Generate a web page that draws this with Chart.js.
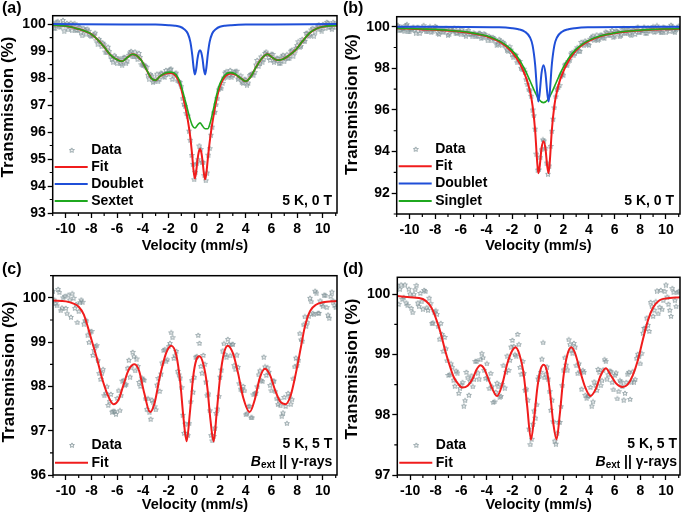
<!DOCTYPE html>
<html>
<head>
<meta charset="utf-8">
<script src="https://cdn.jsdelivr.net/npm/chart.js@4.4.1/dist/chart.umd.min.js"></script>
<style>
    html, body { margin: 0; padding: 0; background: #fff; }
    #wrap { position: relative; width: 685px; height: 522px; overflow: hidden; }
    .box { position: absolute; }
    .tag { position: absolute; font: bold 16px "Liberation Sans", Arial, sans-serif; color: #000; line-height: 1; }
</style>
</head>
<body>
<div id="wrap">
    <div class="box" style="left:0;top:0;width:342px;height:258px"><canvas id="chartA"></canvas></div>
    <div class="box" style="left:342px;top:0;width:343px;height:258px"><canvas id="chartB"></canvas></div>
    <div class="box" style="left:0;top:260px;width:342px;height:262px"><canvas id="chartC"></canvas></div>
    <div class="box" style="left:342px;top:260px;width:343px;height:262px"><canvas id="chartD"></canvas></div>
    <div class="tag" style="left:2px;top:0px">(a)</div>
    <div class="tag" style="left:343px;top:0px">(b)</div>
    <div class="tag" style="left:2px;top:261px">(c)</div>
    <div class="tag" style="left:343px;top:261px">(d)</div>
</div>
<script>
// velocity channels of the measured points (mm/s), two interleaved sweeps
var velocity = [-11, -10.8, -10.6, -10.4, -10.2, -10, -9.8, -9.6, -9.4, -9.2, -9, -8.8, -8.6, -8.4, -8.2, -8, -7.8, -7.6, -7.4, -7.2,
    -7, -6.8, -6.6, -6.4, -6.2, -6, -5.8, -5.6, -5.4, -5.2, -5, -4.8, -4.6, -4.4, -4.2, -4, -3.8, -3.6, -3.4, -3.2,
    -3, -2.8, -2.6, -2.4, -2.2, -2, -1.8, -1.6, -1.4, -1.2, -1, -0.8, -0.6, -0.4, -0.2, 0, 0.2, 0.4, 0.6, 0.8,
    1, 1.2, 1.4, 1.6, 1.8, 2, 2.2, 2.4, 2.6, 2.8, 3, 3.2, 3.4, 3.6, 3.8, 4, 4.2, 4.4, 4.6, 4.8,
    5, 5.2, 5.4, 5.6, 5.8, 6, 6.2, 6.4, 6.6, 6.8, 7, 7.2, 7.4, 7.6, 7.8, 8, 8.2, 8.4, 8.6, 8.8,
    9, 9.2, 9.4, 9.6, 9.8, 10, 10.2, 10.4, 10.6, 10.8, 11];
var velocity2 = [-10.9, -10.7, -10.5, -10.3, -10.1, -9.9, -9.7, -9.5, -9.3, -9.1, -8.9, -8.7, -8.5, -8.3, -8.1, -7.9, -7.7, -7.5, -7.3, -7.1,
    -6.9, -6.7, -6.5, -6.3, -6.1, -5.9, -5.7, -5.5, -5.3, -5.1, -4.9, -4.7, -4.5, -4.3, -4.1, -3.9, -3.7, -3.5, -3.3, -3.1,
    -2.9, -2.7, -2.5, -2.3, -2.1, -1.9, -1.7, -1.5, -1.3, -1.1, -0.9, -0.7, -0.5, -0.3, -0.1, 0.1, 0.3, 0.5, 0.7, 0.9,
    1.1, 1.3, 1.5, 1.7, 1.9, 2.1, 2.3, 2.5, 2.7, 2.9, 3.1, 3.3, 3.5, 3.7, 3.9, 4.1, 4.3, 4.5, 4.7, 4.9,
    5.1, 5.3, 5.5, 5.7, 5.9, 6.1, 6.3, 6.5, 6.7, 6.9, 7.1, 7.3, 7.5, 7.7, 7.9, 8.1, 8.3, 8.5, 8.7, 8.9,
    9.1, 9.3, 9.5, 9.7, 9.9, 10.1, 10.3, 10.5, 10.7, 10.9];

// transmission (%) of the measured points
var dataA = [100.05, 99.85, 100.1, 99.9, 100.15, 99.95, 99.8, 100.05, 99.95, 99.78, 99.9, 99.7, 99.85, 99.65, 99.75, 99.55, 99.62, 99.4, 99.45, 99.18,
    99.25, 98.95, 99.0, 98.7, 98.85, 98.55, 98.72, 98.5, 98.78, 98.65, 98.95, 98.8, 98.98, 98.7, 98.78, 98.5, 98.45, 98.12, 98.15, 97.85,
    97.98, 97.88, 98.2, 98.08, 98.3, 98.15, 98.35, 98.1, 98.2, 97.88, 97.7, 97.05, 96.7, 96.05, 95.15, 94.25, 94.85, 95.5, 94.9, 94.4,
    94.5, 95.4, 96.2, 96.75, 97.25, 97.65, 97.82, 98.2, 98.05, 98.3, 98.1, 98.25, 97.98, 98.1, 97.82, 97.95, 97.83, 98.15, 98.12, 98.5,
    98.45, 98.8, 98.7, 98.98, 98.78, 98.9, 98.6, 98.75, 98.55, 98.8, 98.62, 98.88, 98.75, 99.05, 98.95, 99.22, 99.15, 99.45, 99.38, 99.68,
    99.6, 99.85, 99.72, 99.95, 99.8, 100.0, 99.85, 100.05, 99.9, 100.08, 99.88];
var dataA2 = [99.87, 100.09, 99.92, 100.01, 99.76, 100.04, 99.93, 99.77, 100.03, 99.78, 99.9, 99.58, 99.79, 99.83, 99.58, 99.58, 99.68, 99.28, 99.36, 99.31,
    98.98, 99.16, 98.81, 98.61, 98.78, 98.7, 98.54, 98.77, 98.55, 98.86, 99.0, 98.8, 98.82, 98.93, 98.51, 98.5, 98.42, 97.98, 98.09, 97.9,
    98.16, 97.96, 98.18, 98.04, 98.21, 98.33, 97.97, 98.17, 97.91, 97.85, 97.25, 96.97, 96.61, 95.71, 94.82, 94.52, 94.99, 95.37, 94.88, 94.21,
    95.16, 95.9, 96.73, 97.02, 97.58, 97.62, 98.02, 98.25, 98.1, 98.04, 98.24, 98.27, 98.02, 97.85, 97.97, 97.76, 98.11, 98.17, 98.22, 98.67,
    98.57, 98.61, 98.93, 98.89, 98.67, 98.89, 98.66, 98.74, 98.56, 98.86, 98.74, 98.74, 99.01, 98.83, 99.12, 99.36, 99.19, 99.38, 99.67, 99.56,
    99.8, 99.57, 99.87, 99.98, 99.76, 99.97, 100.08, 99.89, 99.82, 100.03];
var dataB = [100.06, 99.85, 100.0, 99.79, 100.12, 99.77, 99.93, 99.83, 99.98, 99.69, 99.95, 99.88, 99.77, 100.01, 99.81, 100.03, 99.7, 99.89, 99.73, 99.93,
    99.6, 99.89, 99.81, 99.71, 99.93, 99.64, 99.77, 99.56, 99.84, 99.67, 99.72, 99.57, 99.7, 99.45, 99.67, 99.51, 99.56, 99.34, 99.45, 99.14,
    99.4, 99.14, 99.2, 98.89, 99.06, 98.69, 98.66, 98.29, 98.35, 97.99, 97.84, 97.24, 96.94, 96.02, 95.1, 93.13, 93.73, 94.58, 94.18, 92.93,
    94.27, 95.58, 96.65, 97.08, 97.65, 97.69, 98.22, 98.34, 98.71, 98.63, 98.9, 98.85, 99.27, 99.1, 99.27, 99.13, 99.5, 99.38, 99.62, 99.42,
    99.61, 99.45, 99.72, 99.62, 99.84, 99.57, 99.79, 99.53, 99.88, 99.72, 99.87, 99.67, 99.85, 99.65, 100.0, 99.74, 99.85, 99.7, 99.96, 99.8,
    100.01, 99.77, 99.94, 99.74, 100.0, 99.73, 99.94, 100.09, 99.81, 99.9, 100.05];
var dataB2 = [100.07, 99.84, 99.89, 100.08, 99.77, 99.9, 100.0, 99.72, 99.97, 99.84, 100.07, 99.78, 99.92, 99.74, 99.88, 99.99, 99.65, 99.9, 99.77, 99.92,
    99.66, 99.82, 99.95, 99.7, 99.74, 99.87, 99.63, 99.77, 99.65, 99.54, 99.67, 99.57, 99.7, 99.49, 99.64, 99.34, 99.51, 99.5, 99.32, 99.18,
    99.33, 99.26, 99.05, 98.85, 98.9, 98.54, 98.65, 98.38, 98.03, 97.98, 97.47, 96.99, 96.68, 95.74, 93.9, 93.14, 94.11, 94.53, 93.47, 93.33,
    95.0, 96.12, 97.0, 97.19, 97.75, 98.18, 98.14, 98.42, 98.78, 98.72, 99.01, 98.84, 99.17, 99.33, 99.16, 99.42, 99.57, 99.41, 99.38, 99.62,
    99.49, 99.76, 99.61, 99.73, 99.5, 99.81, 99.74, 99.62, 99.92, 99.71, 99.87, 99.59, 99.85, 99.94, 99.74, 99.82, 100.0, 99.7, 99.89, 99.96,
    99.75, 100.06, 99.82, 99.73, 99.96, 99.92, 99.79, 100.01, 99.73, 99.96];
var dataC = [100.16, 99.88, 100.2, 99.72, 100.01, 99.77, 100.07, 99.57, 100.0, 99.86, 99.7, 99.96, 99.42, 99.49, 99.0, 99.25, 98.82, 98.93, 98.3, 98.3,
    97.8, 98.0, 97.67, 97.43, 97.44, 97.74, 97.46, 98.13, 98.04, 98.42, 98.22, 98.78, 98.36, 98.46, 98.01, 98.16, 97.73, 97.73, 97.27, 97.64,
    97.48, 98.19, 98.29, 98.82, 98.57, 98.91, 99.22, 98.64, 98.8, 98.27, 97.98, 96.95, 96.93, 97.17, 98.14, 98.21, 98.68, 98.98, 98.31, 98.51,
    97.8, 97.46, 96.78, 97.07, 97.5, 98.22, 98.81, 98.73, 99.07, 98.7, 98.96, 98.4, 98.44, 97.95, 98.01, 97.37, 97.55, 97.3, 97.82, 97.86,
    98.27, 98.14, 98.67, 98.26, 98.33, 97.91, 98.13, 97.73, 97.7, 97.34, 97.76, 97.17, 97.78, 97.71, 98.45, 98.48, 99.2, 99.03, 99.58, 99.45,
    100.0, 99.66, 100.16, 99.66, 99.94, 99.82, 100.06, 99.62, 100.04, 99.94, 99.79];
var dataC2 = [99.96, 99.83, 100.13, 99.78, 100.04, 99.65, 99.96, 100.1, 99.77, 99.45, 99.9, 99.91, 99.49, 99.17, 99.24, 98.71, 98.91, 98.59, 98.17, 98.39,
    97.85, 97.58, 97.83, 97.45, 97.38, 97.91, 97.8, 98.14, 98.05, 98.6, 98.43, 98.68, 98.63, 98.1, 98.2, 98.15, 97.49, 97.42, 97.7, 97.55,
    98.04, 97.9, 98.54, 98.84, 98.61, 98.98, 99.11, 98.7, 98.35, 98.2, 97.36, 97.16, 96.9, 97.66, 97.88, 98.67, 99.16, 98.46, 98.71, 98.11,
    97.84, 96.9, 96.88, 97.4, 97.78, 98.38, 98.97, 98.67, 98.96, 98.95, 98.48, 98.72, 98.07, 97.93, 97.91, 97.39, 97.56, 97.3, 97.85, 98.0,
    98.36, 98.12, 98.45, 98.43, 98.03, 98.13, 97.89, 97.6, 97.57, 97.41, 97.56, 97.85, 97.61, 98.18, 98.65, 98.6, 99.06, 99.4, 99.37, 99.59,
    99.92, 99.63, 100.12, 99.66, 99.86, 100.07, 99.79, 99.55, 100.14, 99.84];
var dataD = [100.15, 100.09, 99.92, 100.16, 99.82, 100.01, 99.7, 100.08, 99.86, 100.02, 99.76, 100.05, 99.74, 99.85, 99.53, 99.73, 99.47, 99.52, 99.06, 99.1,
    98.66, 98.85, 98.58, 98.73, 98.36, 98.5, 98.15, 98.71, 98.33, 98.65, 98.59, 98.89, 98.6, 99.02, 98.74, 98.85, 98.44, 98.47, 98.22, 98.53,
    98.3, 98.51, 98.45, 98.98, 98.91, 99.24, 99.0, 99.34, 98.79, 98.89, 98.41, 98.25, 97.51, 97.85, 97.95, 98.6, 98.71, 99.2, 98.68, 98.6,
    98.08, 97.89, 97.52, 97.88, 98.14, 98.75, 98.83, 99.25, 99.08, 99.19, 98.82, 98.85, 98.43, 98.71, 98.28, 98.32, 98.15, 98.55, 98.41, 98.71,
    98.57, 98.92, 98.6, 98.73, 98.54, 98.66, 98.27, 98.57, 98.47, 98.36, 98.68, 98.26, 98.72, 98.59, 99.01, 98.85, 99.36, 99.44, 99.49, 99.87,
    99.64, 99.88, 99.68, 100.07, 99.9, 100.16, 99.84, 99.64, 100.04, 99.8, 100.05];
var dataD2 = [99.84, 100.16, 99.95, 99.86, 100.09, 99.77, 100.0, 100.15, 99.8, 99.88, 100.07, 99.78, 99.94, 99.52, 99.71, 99.67, 99.26, 99.34, 99.29, 98.9,
    98.67, 98.79, 98.48, 98.7, 98.44, 98.54, 98.24, 98.62, 98.56, 98.47, 98.89, 98.7, 98.92, 98.95, 98.61, 98.6, 98.69, 98.21, 98.38, 98.47,
    98.31, 98.82, 98.71, 98.74, 99.13, 99.14, 98.98, 99.17, 98.68, 98.69, 98.43, 97.77, 97.6, 98.07, 98.17, 98.64, 98.93, 98.62, 98.8, 98.39,
    98.25, 97.57, 97.7, 97.88, 98.49, 98.95, 98.75, 99.17, 99.03, 99.13, 98.69, 98.72, 98.74, 98.33, 98.31, 98.46, 98.22, 98.49, 98.76, 98.49,
    98.75, 98.89, 98.67, 98.72, 98.42, 98.7, 98.39, 98.55, 98.25, 98.54, 98.71, 98.55, 98.55, 98.94, 98.97, 99.02, 99.44, 99.61, 99.39, 99.8,
    99.74, 100.06, 99.79, 99.75, 100.05, 99.96, 99.74, 100.1, 99.9, 100.03];

// fitted curves as [velocity, transmission]
var fitA = [[-11, 99.96], [-10, 99.93], [-9, 99.82], [-8.5, 99.74], [-8, 99.63], [-7.5, 99.42], [-7, 99.15], [-6.5, 98.85], [-6, 98.68], [-5.6, 98.62],
    [-5.2, 98.76], [-4.8, 98.88], [-4.5, 98.84], [-4.1, 98.65], [-3.7, 98.3], [-3.3, 97.98], [-3, 97.92], [-2.7, 98.05], [-2.3, 98.16], [-1.8, 98.19],
    [-1.4, 98.06], [-1.1, 97.75], [-0.8, 97.17], [-0.5, 96.45], [-0.3, 95.79], [-0.15, 95.1], [-0.05, 94.57], [0.05, 94.28], [0.15, 94.52], [0.25, 94.95],
    [0.35, 95.25], [0.45, 95.37], [0.55, 95.25], [0.65, 94.92], [0.75, 94.48], [0.85, 94.25], [0.95, 94.5], [1.05, 94.97], [1.2, 95.62], [1.4, 96.3],
    [1.7, 97.12], [2, 97.7], [2.4, 98.06], [2.8, 98.17], [3.2, 98.13], [3.6, 98], [4, 97.88], [4.4, 98.05], [4.8, 98.4], [5.3, 98.75],
    [5.7, 98.88], [6.1, 98.75], [6.5, 98.66], [6.9, 98.7], [7.4, 98.85], [7.9, 99.05], [8.4, 99.35], [9, 99.68], [9.6, 99.85], [10.2, 99.92], [11.1, 99.95]];
var doubletA = [[-11, 100], [-3, 99.98], [-2, 99.96], [-1.5, 99.94], [-1.1, 99.9], [-0.8, 99.82], [-0.5, 99.65], [-0.3, 99.34], [-0.15, 98.85], [-0.05, 98.4],
    [0.05, 98.13], [0.15, 98.32], [0.25, 98.7], [0.35, 98.95], [0.45, 99.03], [0.55, 98.95], [0.65, 98.7], [0.75, 98.32], [0.85, 98.13], [0.95, 98.4],
    [1.05, 98.85], [1.2, 99.34], [1.4, 99.65], [1.7, 99.82], [2, 99.9], [2.4, 99.94], [2.9, 99.96], [4, 99.98], [11.1, 100]];
var sextetA = [[-11, 99.96], [-10, 99.93], [-9, 99.82], [-8.5, 99.74], [-8, 99.63], [-7.5, 99.42], [-7, 99.15], [-6.5, 98.85], [-6, 98.68], [-5.6, 98.62],
    [-5.2, 98.76], [-4.8, 98.88], [-4.5, 98.84], [-4.1, 98.65], [-3.7, 98.3], [-3.3, 97.98], [-3, 97.92], [-2.7, 98.05], [-2.3, 98.18], [-1.8, 98.22],
    [-1.4, 98.12], [-1.1, 97.85], [-0.8, 97.35], [-0.5, 96.8], [-0.3, 96.45], [-0.15, 96.25], [0.05, 96.15], [0.25, 96.25], [0.45, 96.34], [0.65, 96.22],
    [0.85, 96.12], [1.05, 96.12], [1.25, 96.35], [1.45, 96.75], [1.7, 97.3], [2, 97.8], [2.4, 98.12], [2.8, 98.2], [3.2, 98.15], [3.6, 98],
    [4, 97.88], [4.4, 98.05], [4.8, 98.4], [5.3, 98.75], [5.7, 98.88], [6.1, 98.75], [6.5, 98.66], [6.9, 98.7], [7.4, 98.85], [7.9, 99.05],
    [8.4, 99.35], [9, 99.68], [9.6, 99.85], [10.2, 99.92], [11.1, 99.95]];

var fitB = [[-11, 99.92], [-10, 99.9], [-9, 99.87], [-8, 99.85], [-7, 99.81], [-6, 99.76], [-5, 99.67], [-4, 99.54], [-3.4, 99.4], [-3, 99.28],
    [-2.6, 99.12], [-2.2, 98.91], [-1.8, 98.62], [-1.4, 98.24], [-1, 97.7], [-0.8, 97.34], [-0.6, 96.88], [-0.4, 96.2], [-0.2, 95.01], [-0.05, 93.58],
    [0.05, 92.96], [0.15, 93.26], [0.3, 94.16], [0.45, 94.5], [0.6, 94.16], [0.75, 93.26], [0.85, 92.96], [0.95, 93.58], [1.1, 95.01], [1.3, 96.21],
    [1.5, 96.88], [1.7, 97.36], [1.9, 97.7], [2.2, 98.12], [2.6, 98.55], [3, 98.86], [3.4, 99.09], [4, 99.32], [5, 99.56], [6, 99.69],
    [7, 99.77], [8, 99.82], [9, 99.86], [10, 99.88], [11.1, 99.9]];
var doubletB = [[-11, 100], [-3, 99.97], [-2, 99.93], [-1.5, 99.88], [-1, 99.76], [-0.6, 99.48], [-0.4, 99.1], [-0.2, 98.17], [-0.05, 96.92], [0.05, 96.41],
    [0.15, 96.79], [0.3, 97.78], [0.45, 98.15], [0.6, 97.78], [0.75, 96.79], [0.85, 96.41], [0.95, 96.92], [1.1, 98.17], [1.3, 99.1], [1.5, 99.48],
    [1.9, 99.76], [2.4, 99.88], [2.9, 99.93], [3.9, 99.97], [11.1, 100]];
var singletB = [[-11, 99.93], [-10, 99.91], [-9, 99.89], [-8, 99.87], [-7, 99.83], [-6, 99.78], [-5, 99.69], [-4, 99.56], [-3, 99.32], [-2.5, 99.13],
    [-2, 98.86], [-1.5, 98.48], [-1, 97.94], [-0.6, 97.4], [-0.2, 96.84], [0.1, 96.5], [0.45, 96.35], [0.8, 96.5], [1.1, 96.84], [1.5, 97.4],
    [1.9, 97.94], [2.4, 98.48], [2.9, 98.86], [3.4, 99.13], [3.9, 99.32], [4.9, 99.56], [5.9, 99.69], [6.9, 99.78], [7.9, 99.83], [8.9, 99.87],
    [9.9, 99.89], [11.1, 99.91]];

var fitC = [[-11, 99.94], [-10, 99.92], [-9.5, 99.88], [-9, 99.8], [-8.6, 99.62], [-8.3, 99.35], [-8, 99.05], [-7.6, 98.65], [-7.2, 98.2], [-6.8, 97.85],
    [-6.3, 97.6], [-5.9, 97.7], [-5.5, 98.05], [-5.1, 98.38], [-4.65, 98.5], [-4.3, 98.35], [-3.9, 97.85], [-3.45, 97.42], [-3.1, 97.62], [-2.7, 98.2],
    [-2.2, 98.75], [-1.8, 98.92], [-1.4, 98.7], [-1.1, 98.1], [-0.85, 97.3], [-0.6, 96.76], [-0.35, 97.4], [-0.1, 98.2], [0.15, 98.6], [0.4, 98.68],
    [0.7, 98.5], [1, 98], [1.25, 97.25], [1.5, 96.76], [1.75, 97.45], [2, 98.2], [2.3, 98.75], [2.6, 98.92], [3, 98.75], [3.4, 98.3],
    [3.8, 97.75], [4.3, 97.42], [4.7, 97.7], [5.1, 98.2], [5.5, 98.4], [5.9, 98.25], [6.3, 97.9], [6.7, 97.65], [7.1, 97.6], [7.5, 97.8],
    [7.9, 98.3], [8.3, 98.9], [8.6, 99.35], [9, 99.7], [9.5, 99.85], [10, 99.9], [11.1, 99.93]];

var fitD = [[-11, 99.97], [-10, 99.95], [-9, 99.92], [-8.5, 99.83], [-8.2, 99.72], [-7.9, 99.55], [-7.6, 99.35], [-7.3, 99.1], [-7, 98.88], [-6.6, 98.63],
    [-6.2, 98.5], [-5.9, 98.45], [-5.5, 98.48], [-5.1, 98.6], [-4.8, 98.75], [-4.5, 98.82], [-4.2, 98.76], [-3.8, 98.55], [-3.2, 98.31], [-2.8, 98.5],
    [-2.4, 98.85], [-2, 99.07], [-1.75, 99.12], [-1.45, 99], [-1.15, 98.72], [-0.85, 98.15], [-0.55, 97.59], [-0.3, 97.95], [-0.05, 98.45], [0.2, 98.75],
    [0.45, 98.83], [0.7, 98.72], [0.95, 98.35], [1.2, 97.85], [1.45, 97.59], [1.7, 98], [2, 98.65], [2.3, 99], [2.6, 99.12], [2.9, 99.02],
    [3.3, 98.72], [3.7, 98.45], [4.1, 98.31], [4.5, 98.42], [4.9, 98.65], [5.3, 98.77], [5.7, 98.65], [6.1, 98.52], [6.6, 98.46], [7, 98.5],
    [7.4, 98.65], [7.8, 98.9], [8.2, 99.25], [8.6, 99.57], [9, 99.78], [9.5, 99.9], [10, 99.93], [11.1, 99.95]];

// axis ranges [min, max, minor step, major step]
var velRange = [-11, 11.1];
var yAxisA = [93, 100.31, 0.5, 1];
var yAxisB = [91, 100.48, 1, 2];
var yAxisC = [96, 100.5, 0.5, 1];
var yAxisD = [97, 100.28, 0.5, 1];

var RED = '#f01c1c';
var BLUE = '#1f4fd8';
var GREEN = '#1fa81f';
var STAR = '#7d9096';
var FONT = '"Liberation Sans", Arial, sans-serif';

function onStep(v, step) {
    var r = v / step;
    return Math.abs(r - Math.round(r)) < 1e-6;
}

function starImage(size, color) {
    var c = document.createElement('canvas');
    c.width = size;
    c.height = size;
    var g = c.getContext('2d');
    var r = size / 2 - 0.5, ri = r * 0.45, m = size / 2;
    g.beginPath();
    for (var i = 0; i < 10; i++) {
        var rr = i % 2 ? ri : r;
        var ang = -Math.PI / 2 + i * Math.PI / 5;
        g.lineTo(m + rr * Math.cos(ang), m + 0.4 + rr * Math.sin(ang));
    }
    g.closePath();
    g.strokeStyle = color;
    g.lineWidth = 0.8;
    g.stroke();
    return c;
}
var starImg = starImage(6, STAR);

function toPoints(pairs) {
    return pairs.map(function (p) { return { x: p[0], y: p[1] }; });
}

var panelPlugin = {
    id: 'panel',
    afterDraw: function (chart) {
        var o = chart.options.plugins.panel;
        var ctx = chart.ctx, a = chart.chartArea;
        var xs = chart.scales.x, ys = chart.scales.y;
        ctx.save();

        // minor ticks
        ctx.strokeStyle = '#000';
        ctx.lineWidth = 1.2;
        ctx.beginPath();
        xs.ticks.forEach(function (t) {
            if (onStep(t.value, 1) && !onStep(t.value, 2)) {
                var px = xs.getPixelForValue(t.value);
                ctx.moveTo(px, a.bottom);
                ctx.lineTo(px, a.bottom + 3);
            }
        });
        ys.ticks.forEach(function (t) {
            if (onStep(t.value, o.yAxis[2]) && !onStep(t.value, o.yAxis[3])) {
                var py = ys.getPixelForValue(t.value);
                ctx.moveTo(a.left, py);
                ctx.lineTo(a.left - 3, py);
            }
        });
        ctx.stroke();

        // frame
        ctx.lineWidth = 1.5;
        ctx.strokeRect(a.left, a.top, a.right - a.left, a.bottom - a.top);

        // y axis title
        ctx.fillStyle = '#000';
        ctx.save();
        ctx.translate(o.yTitle[0], o.yTitle[1]);
        ctx.rotate(-Math.PI / 2);
        ctx.font = 'bold 17px ' + FONT;
        ctx.textAlign = 'center';
        ctx.textBaseline = 'middle';
        ctx.fillText('Transmission (%)', 0, 0);
        ctx.restore();

        // legend
        ctx.font = 'bold 14px ' + FONT;
        ctx.textBaseline = 'middle';
        ctx.textAlign = 'left';
        o.legend.forEach(function (item, i) {
            var y = a.bottom - o.legendTop + i * o.legendStep;
            if (item.star) {
                ctx.drawImage(starImg, a.left + 19 - 3, y - 3);
            } else {
                ctx.strokeStyle = item.color;
                ctx.lineWidth = 2;
                ctx.beginPath();
                ctx.moveTo(a.left + 2, y);
                ctx.lineTo(a.left + 35, y);
                ctx.stroke();
            }
            ctx.fillText(item.text, a.left + 38.5, y);
        });

        // notes, right aligned
        ctx.textAlign = 'right';
        o.notes.forEach(function (n) {
            var y = a.bottom - n.dy;
            var xr = a.right - o.noteRight;
            if (!n.bext) {
                ctx.font = 'bold 14px ' + FONT;
                ctx.fillText(n.text, xr, y);
                return;
            }
            var tail = ' || \u03b3-rays';
            ctx.font = 'bold 14px ' + FONT;
            ctx.fillText(tail, xr, y);
            xr -= ctx.measureText(tail).width;
            ctx.font = 'bold 10px ' + FONT;
            ctx.fillText('ext', xr, y + 4);
            xr -= ctx.measureText('ext').width;
            ctx.font = 'italic bold 14px ' + FONT;
            ctx.fillText('B', xr, y);
        });
        ctx.restore();
    }
};

function makeChart(id, cfg) {
    var pts = velocity.map(function (v, i) { return { x: v, y: cfg.data[i] }; })
        .concat(velocity2.map(function (v, i) { return { x: v, y: cfg.data2[i] }; }));
    var datasets = [{
        label: 'Data',
        data: pts,
        pointStyle: starImg,
        pointRadius: 3,
        showLine: false,
        order: 9
    }];
    cfg.curves.forEach(function (c) {
        datasets.push({
            label: c.label,
            data: toPoints(c.points),
            showLine: true,
            borderColor: c.color,
            borderWidth: c.width,
            pointRadius: 0,
            cubicInterpolationMode: 'monotone',
            order: c.order
        });
    });
    var f = { family: FONT, size: 14, weight: 'bold' };
    return new Chart(document.getElementById(id), {
        type: 'scatter',
        data: { datasets: datasets },
        options: {
            responsive: true,
            maintainAspectRatio: false,
            animation: false,
            events: [],
            layout: { padding: { top: cfg.pad[0], right: cfg.pad[1], bottom: cfg.pad[2], left: 0 } },
            plugins: {
                legend: { display: false },
                tooltip: { enabled: false },
                panel: {
                    yAxis: cfg.yAxis, yTitle: cfg.yTitle, legend: cfg.legend, legendTop: cfg.legendTop,
                    legendStep: cfg.legendStep, notes: cfg.notes, noteRight: cfg.noteRight
                }
            },
            scales: {
                x: {
                    type: 'linear',
                    min: velRange[0],
                    max: velRange[1],
                    afterFit: function (s) { s.height = cfg.xh; },
                    border: { display: false },
                    grid: {
                        drawOnChartArea: false,
                        tickLength: 5,
                        tickWidth: 1.3,
                        tickColor: function (c) { return c.tick && onStep(c.tick.value, 2) ? '#000' : 'rgba(0,0,0,0)'; }
                    },
                    ticks: {
                        stepSize: 1,
                        includeBounds: false,
                        autoSkip: false,
                        maxRotation: 0,
                        padding: 3,
                        color: '#000',
                        font: f,
                        callback: function (v) { return onStep(v, 2) ? String(Math.round(v)) : ''; }
                    },
                    title: { display: true, text: 'Velocity (mm/s)', color: '#000', font: { family: FONT, size: 14.5, weight: 'bold' }, padding: 0 }
                },
                y: {
                    type: 'linear',
                    min: cfg.yAxis[0],
                    max: cfg.yAxis[1],
                    afterFit: function (s) { s.width = cfg.yw; },
                    border: { display: false },
                    grid: {
                        drawOnChartArea: false,
                        tickLength: 5,
                        tickWidth: 1.3,
                        tickColor: function (c) { return c.tick && onStep(c.tick.value, cfg.yAxis[3]) ? '#000' : 'rgba(0,0,0,0)'; }
                    },
                    ticks: {
                        stepSize: cfg.yAxis[2],
                        includeBounds: false,
                        autoSkip: false,
                        padding: 2,
                        color: '#000',
                        font: f,
                        callback: function (v) { return onStep(v, cfg.yAxis[3]) ? String(Math.round(v)) : ''; }
                    },
                    title: { display: false }
                }
            }
        },
        plugins: [panelPlugin]
    });
}

makeChart('chartA', {
    data: dataA,
    data2: dataA2,
    yAxis: yAxisA,
    yTitle: [8, 107],
    pad: [15.7, 4.3, 3.6],
    yw: 52.7,
    xh: 41.4,
    curves: [
        { label: 'Fit', points: fitA, color: RED, width: 2, order: 3 },
        { label: 'Doublet', points: doubletA, color: BLUE, width: 2, order: 1 },
        { label: 'Sextet', points: sextetA, color: GREEN, width: 1.6, order: 2 }
    ],
    legend: [{ text: 'Data', star: true }, { text: 'Fit', color: RED }, { text: 'Doublet', color: BLUE }, { text: 'Sextet', color: GREEN }],
    legendTop: 63,
    legendStep: 17,
    notes: [{ text: '5 K, 0 T', dy: 12 }],
    noteRight: 5
});

makeChart('chartB', {
    data: dataB,
    data2: dataB2,
    yAxis: yAxisB,
    yTitle: [10.5, 104.5],
    pad: [16.7, 2.3, 3.6],
    yw: 54.7,
    xh: 40.4,
    curves: [
        { label: 'Fit', points: fitB, color: RED, width: 2, order: 3 },
        { label: 'Doublet', points: doubletB, color: BLUE, width: 2, order: 1 },
        { label: 'Singlet', points: singletB, color: GREEN, width: 1.6, order: 2 }
    ],
    legend: [{ text: 'Data', star: true }, { text: 'Fit', color: RED }, { text: 'Doublet', color: BLUE }, { text: 'Singlet', color: GREEN }],
    legendTop: 65,
    legendStep: 17.3,
    notes: [{ text: '5 K, 0 T', dy: 13 }],
    noteRight: 6
});

makeChart('chartC', {
    data: dataC,
    data2: dataC2,
    yAxis: yAxisC,
    yTitle: [9, 112],
    pad: [15.7, 4, 8.1],
    yw: 53,
    xh: 38.9,
    curves: [
        { label: 'Fit', points: fitC, color: RED, width: 2, order: 3 }
    ],
    legend: [{ text: 'Data', star: true }, { text: 'Fit', color: RED }],
    legendTop: 30,
    legendStep: 17.7,
    notes: [{ text: '5 K, 5 T', dy: 30.7 }, { bext: true, dy: 13.3 }],
    noteRight: 4.7
});

makeChart('chartD', {
    data: dataD,
    data2: dataD2,
    yAxis: yAxisD,
    yTitle: [10.5, 109],
    pad: [17.3, 3, 8.1],
    yw: 55.3,
    xh: 38.9,
    curves: [
        { label: 'Fit', points: fitD, color: RED, width: 2, order: 3 }
    ],
    legend: [{ text: 'Data', star: true }, { text: 'Fit', color: RED }],
    legendTop: 30,
    legendStep: 17.7,
    notes: [{ text: '5 K, 5 T', dy: 30.7 }, { bext: true, dy: 13.3 }],
    noteRight: 3
});
</script>
</body>
</html>
